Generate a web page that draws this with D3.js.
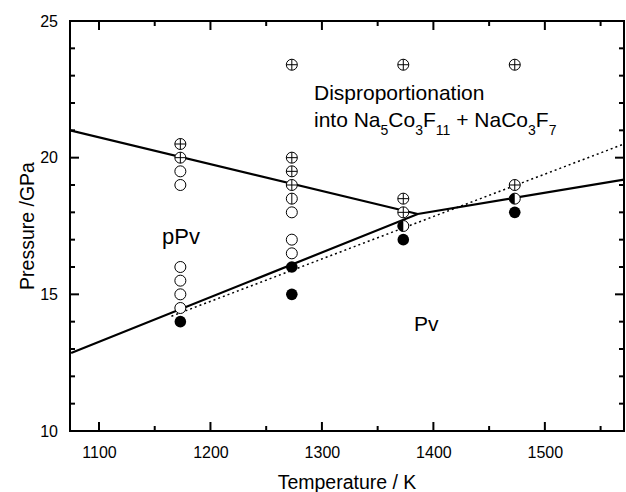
<!DOCTYPE html>
<html><head><meta charset="utf-8">
<script src="https://cdn.jsdelivr.net/npm/d3@7"></script>
<style>body{margin:0;background:#fff}svg{display:block}text{font-family:"Liberation Sans",Arial,sans-serif;fill:#000}</style>
</head><body>
<svg id="c" width="626" height="492"></svg>
<script>
// ---- data ----
const xDomain = [1074, 1571];
const yDomain = [10, 25];
const xTicks = [1100, 1200, 1300, 1400, 1500];
const yTicks = [10, 15, 20, 25];
const xMinorTicks = [1150, 1250, 1350, 1450, 1550];
const yMinorTicks = [11, 12, 13, 14, 16, 17, 18, 19, 21, 22, 23, 24];
const crossedPts = [[1173,20.5],[1173,20],[1273,23.4],[1273,20],[1273,19.5],[1273,19],[1373,23.4],[1373,18.5],[1373,18],[1473,23.4],[1473,19]];
const openPts = [[1173,19.5],[1173,19],[1173,16],[1173,15.5],[1173,15],[1173,14.5],[1273,18],[1273,17],[1273,16.5]];
const barPts = [[1273,18.5]];
const halfPts = [[1373,17.5],[1473,18.5]];
const filledPts = [[1173,14],[1273,16],[1273,15],[1373,17],[1473,18]];
const upperBoundary = [[1074,21.0],[1386,17.94]];
const lowerBoundary = [[1075,12.85],[1386,17.94],[1571,19.2]];
const dottedBoundary = [[1165,14.2],[1571,20.5]];

// ---- layout ----
const L = 70, R = 624, T = 21, B = 431;
const svg = d3.select("#c");
const x = d3.scaleLinear().domain(xDomain).range([L, R]);
const y = d3.scaleLinear().domain(yDomain).range([B, T]);

svg.append("clipPath").attr("id","clip").append("rect").attr("x",L).attr("y",T).attr("width",R-L).attr("height",B-T);

const line = d3.line().x(d=>x(d[0])).y(d=>y(d[1]));
const g = svg.append("g").attr("clip-path","url(#clip)");
g.append("path").attr("d", line(dottedBoundary)).attr("fill","none").attr("stroke","#000").attr("stroke-width",1.5).attr("stroke-dasharray","2,3");
g.append("path").attr("d", line(upperBoundary)).attr("fill","none").attr("stroke","#000").attr("stroke-width",2.2);
g.append("path").attr("d", line(lowerBoundary)).attr("fill","none").attr("stroke","#000").attr("stroke-width",2.2);

const r = 5.5;
svg.append("g").selectAll("circle").data(openPts).join("circle")
  .attr("cx",d=>x(d[0])).attr("cy",d=>y(d[1])).attr("r",r).attr("fill","#fff").attr("stroke","#000").attr("stroke-width",1);
const cg = svg.append("g").selectAll("g").data(crossedPts).join("g").attr("transform",d=>`translate(${x(d[0])},${y(d[1])})`);
cg.append("circle").attr("r",r).attr("fill","#fff").attr("stroke","#000").attr("stroke-width",1);
cg.append("path").attr("d",`M${-r},0H${r}M0,${-r}V${r}`).attr("stroke","#000").attr("stroke-width",1);
const bg = svg.append("g").selectAll("g").data(barPts).join("g").attr("transform",d=>`translate(${x(d[0])},${y(d[1])})`);
bg.append("circle").attr("r",r).attr("fill","#fff").attr("stroke","#000").attr("stroke-width",1);
bg.append("path").attr("d",`M0,${-r}V${r}`).attr("stroke","#000").attr("stroke-width",1);
const hg = svg.append("g").selectAll("g").data(halfPts).join("g").attr("transform",d=>`translate(${x(d[0])},${y(d[1])})`);
hg.append("circle").attr("r",r).attr("fill","#fff");
hg.append("path").attr("d",`M0,${-r}A${r},${r} 0 0 0 0,${r}Z`).attr("fill","#000");
hg.append("circle").attr("r",r).attr("fill","none").attr("stroke","#000").attr("stroke-width",1);
svg.append("g").selectAll("circle").data(filledPts).join("circle")
  .attr("cx",d=>x(d[0])).attr("cy",d=>y(d[1])).attr("r",r+0.3).attr("fill","#000");

// ---- axes: labels via d3.axis, inward tick marks drawn from the same scales ----
const xa = svg.append("g").attr("transform",`translate(0,${B})`)
  .call(d3.axisBottom(x).tickValues(xTicks).tickSize(0).tickPadding(16).tickFormat(d3.format("d")));
const ya = svg.append("g").attr("transform",`translate(${L},0)`)
  .call(d3.axisLeft(y).tickValues(yTicks).tickSize(0).tickPadding(12).tickFormat(d3.format("d")));
[xa,ya].forEach(s=>{ s.select(".domain").remove(); s.selectAll("text").style("font-size","16px").attr("fill","#000"); });

const tk = svg.append("g").attr("stroke","#000").attr("stroke-width",2);
function xt(vals, len){
  vals.forEach(v=>{
    tk.append("line").attr("x1",x(v)).attr("x2",x(v)).attr("y1",B).attr("y2",B-len);
    tk.append("line").attr("x1",x(v)).attr("x2",x(v)).attr("y1",T).attr("y2",T+len);
  });
}
function yt(vals, len){
  vals.forEach(v=>{
    tk.append("line").attr("y1",y(v)).attr("y2",y(v)).attr("x1",L).attr("x2",L+len);
    tk.append("line").attr("y1",y(v)).attr("y2",y(v)).attr("x1",R).attr("x2",R-len);
  });
}
xt(xTicks, 9); xt(xMinorTicks, 5); yt(yTicks, 9); yt(yMinorTicks, 5);
svg.append("rect").attr("x",L).attr("y",T).attr("width",R-L).attr("height",B-T).attr("fill","none").attr("stroke","#000").attr("stroke-width",2);

// ---- titles ----
svg.append("text").attr("x",(L+R)/2).attr("y",489).attr("text-anchor","middle").style("font-size","19.5px").text("Temperature / K");
svg.append("text").attr("transform",`translate(34,${(T+B)/2}) rotate(-90)`).attr("text-anchor","middle").style("font-size","19.5px").text("Pressure /GPa");

// ---- annotations ----
svg.append("text").attr("x",314).attr("y",100).style("font-size","21px").text("Disproportionation");
const t2 = svg.append("text").attr("x",314).attr("y",127).style("font-size","21px");
const parts = [["into Na",0],["5",1],["Co",0],["3",1],["F",0],["11",1],[" + NaCo",0],["3",1],["F",0],["7",1]];
parts.forEach((p,i)=>{
  const prevSub = i>0 ? parts[i-1][1] : 0;
  t2.append("tspan").text(p[0]).style("font-size", p[1]?"14px":"21px")
    .attr("dy", p[1]&&!prevSub ? 8 : (!p[1]&&prevSub ? -8 : 0));
});
svg.append("text").attr("x",162).attr("y",244).style("font-size","22px").text("pPv");
svg.append("text").attr("x",414).attr("y",331).style("font-size","21px").text("Pv");
</script>
</body></html>
